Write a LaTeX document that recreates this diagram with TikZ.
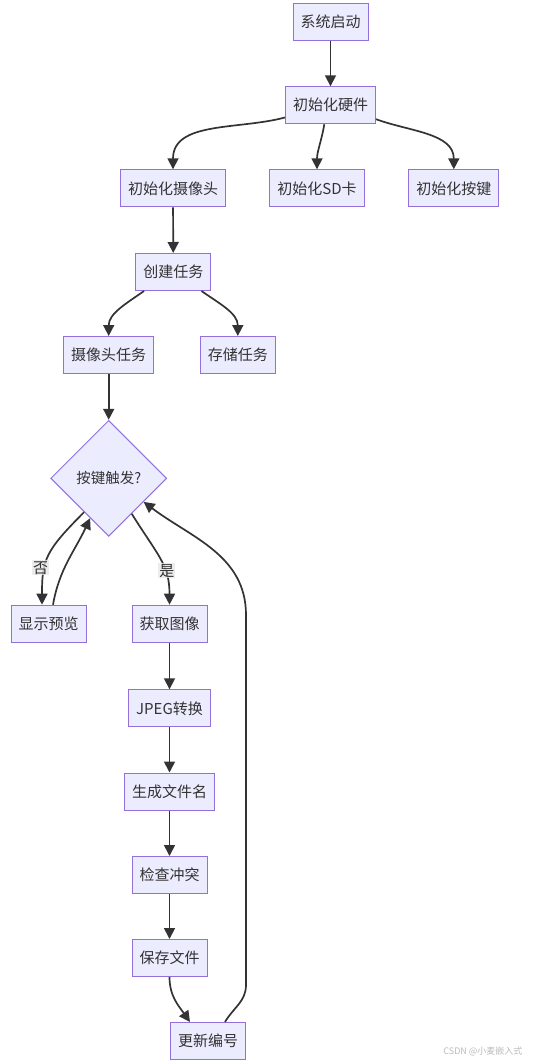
\documentclass[tikz,border=0pt]{standalone}
\usepackage{fontspec}
\setmainfont{Noto Sans CJK SC}
\usetikzlibrary{arrows.meta,shapes.geometric}
\definecolor{nodefill}{HTML}{ECECFF}
\definecolor{nodeline}{HTML}{9370DB}
\definecolor{edgecol}{HTML}{333333}
\definecolor{lblbg}{HTML}{E8E8E8}
\definecolor{wmcol}{HTML}{BBBBBB}
\begin{document}
\begin{tikzpicture}[x=1pt,y=-1pt,
  box/.style={draw=nodeline, fill=nodefill, line width=1pt, minimum height=37pt,
    inner xsep=7.5pt, inner ysep=0pt, font=\fontsize{15}{17}\selectfont, text=edgecol},
  dec/.style={diamond, draw=nodeline, fill=nodefill, line width=1pt, inner sep=0pt,
    minimum width=116pt, minimum height=116pt, font=\fontsize{14.5}{17}\selectfont, text=edgecol},
  edge/.style={draw=edgecol, line width=1.7pt, -{Triangle[length=11pt,width=11pt]}},
  lbl/.style={fill=lblbg, fill opacity=0.8, text opacity=1, inner sep=1pt,
    font=\fontsize{15}{17}\selectfont, text=edgecol}]
\useasboundingbox (0,0) rectangle (534,1062);
\fill[white] (0,0) rectangle (534,1062);

\node[box] (sys)   at (330.5,21.7)  {系统启动};
\node[box] (hw)    at (330.5,105.3) {初始化硬件};
\node[box] (cam)   at (173,188.3)   {初始化摄像头};
\node[box] (sd)    at (317,188.3)   {初始化SD卡};
\node[box] (key)   at (453.8,188.3) {初始化按键};
\node[box] (task)  at (173.3,272)   {创建任务};
\node[box] (ctask) at (108.7,355)   {摄像头任务};
\node[box] (stask) at (237.8,355)   {存储任务};
\node[dec] (dia)   at (108.7,478.3) {按键触发?};
\node[box] (prev)  at (48.5,623.7)  {显示预览};
\node[box] (grab)  at (169.5,623.7) {获取图像};
\node[box] (jpeg)  at (169.5,708.3) {JPEG转换};
\node[box] (gen)   at (169.5,791.5) {生成文件名};
\node[box] (chk)   at (169.5,875)   {检查冲突};
\node[box] (save)  at (169.5,958)   {保存文件};
\node[box] (upd)   at (208,1041)    {更新编号};

\coordinate (loopA) at (246,985);
\coordinate (loopB) at (246,615);

\draw[edge] (sys) -- (hw);
\draw[edge] (hw.195) to[out=195,in=90] (cam.north);
\draw[edge] (hw.252) to[out=260,in=90] (sd.north);
\draw[edge] (hw.-17) to[out=-20,in=90] (key.north);
\draw[edge] (cam) -- (task);
\draw[edge] (task.213) to[out=215,in=90] (ctask.north);
\draw[edge] (task.-34) to[out=-35,in=90] (stask.north);
\draw[edge] (ctask) -- (dia);
\draw[edge] (dia.234) .. controls +(225:55pt) and +(90:45pt) .. node[lbl, pos=0.6, xshift=-5pt, yshift=-4pt] {否} ([xshift=-6.5pt]prev.north);
\draw[edge] ([xshift=4.5pt]prev.north) to[out=80,in=245] (dia.245);
\draw[edge] (dia.303) .. controls +(-58:50pt) and +(90:40pt) .. node[lbl, pos=0.6, xshift=3pt, yshift=-3pt] {是} (grab.north);
\draw[edge] (grab) -- (jpeg);
\draw[edge] (jpeg) -- (gen);
\draw[edge] (gen) -- (chk);
\draw[edge] (chk) -- (save);
\draw[edge] (save.south) to[out=270,in=125] ([xshift=-18pt]upd.north);
\draw[edge] ([xshift=17pt]upd.north) to[out=60,in=270] (loopA) -- (loopB) to[out=90,in=-37] (dia.-34);

\node[text=wmcol, font=\fontsize{9}{11}\selectfont, anchor=east] (wm) at (526,1051) {CSDN @小麦嵌入式};
\end{tikzpicture}
\end{document}
